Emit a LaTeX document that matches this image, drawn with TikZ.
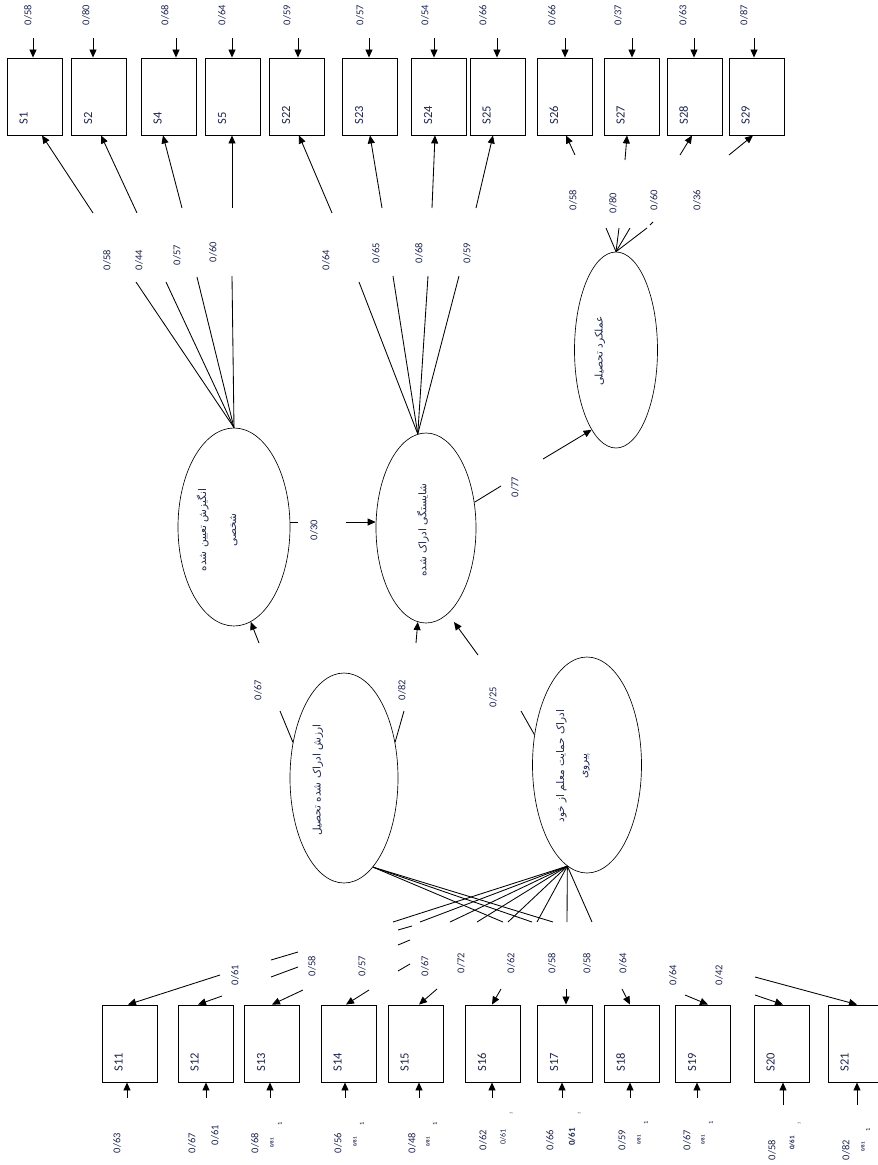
\documentclass[tikz,border=0pt]{standalone}
\usepackage{fontspec}
\setmainfont{Carlito}
\newfontfamily\fa[Script=Arabic]{DejaVu Sans}
\TeXXeTstate=1
\usetikzlibrary{arrows.meta,shapes.geometric}
\definecolor{txt}{RGB}{30,38,78}
\begin{document}
\begin{tikzpicture}[x=1pt,y=-1pt,
  box/.style={draw,line width=0.9pt,minimum width=55pt,minimum height=77pt,inner sep=0pt},
  lat/.style={draw,ellipse,line width=0.65pt,inner sep=0pt},
  ln/.style={line width=0.85pt},
  arr/.style={line width=0.85pt,-{Triangle[length=8pt,width=7pt]}},
  num/.style={rotate=90,font=\fontsize{10.5}{12}\selectfont,text=txt,inner sep=0pt},
  tiny/.style={rotate=90,font=\fontsize{5}{6}\selectfont\bfseries,text=txt,inner sep=0pt},
  one/.style={rotate=90,font=\fontsize{6.5}{7}\selectfont,text=txt,inner sep=0pt},
  slab/.style={rotate=90,anchor=west,font=\fontsize{12.5}{14}\selectfont,text=txt,inner sep=0pt},
  fatext/.style={rotate=90,align=center,font=\fa\fontsize{10.5}{30}\selectfont,text=txt,inner sep=0pt}]
\useasboundingbox (0,0) rectangle (878,1165);

% ---------- latent variables ----------
\node[lat,minimum width=112pt,minimum height=198pt] (E1) at (234,527) {};
\node[lat,minimum width=100pt,minimum height=190pt] (E2) at (426,528) {};
\node[lat,minimum width=83pt,minimum height=196pt] (E3) at (616,350) {};
\node[lat,minimum width=108pt,minimum height=210pt] (E4) at (344,778) {};
\node[lat,minimum width=109pt,minimum height=216pt] (E5) at (587,765) {};

\node[fatext] (T1) at (217,530) {\beginR انگیزش تعیین شده\endR\\\beginR شخصی\endR};
\node[fatext] (T2) at (423,530) {\beginR شایستگی ادراک شده\endR};
\node[fatext] (T3) at (600,351) {\beginR عملکرد تحصیلی\endR};
\node[fatext] (T4) at (318,780) {\beginR ارزش ادراک شده تحصیل\endR};
\node[fatext,font=\fa\fontsize{10.5}{23}\selectfont] (T5) at (573,766) {\beginR ادراک حمایت معلم از خود\endR\\\beginR پیروی\endR};

% ---------- top row of indicators ----------
\foreach \n/\cx/\ta/\tb/\e/\lx/\sx/\sy in {
 1/34.5/-1.5/7.5/58/28/93/213,
 2/99/-6/2/80/86/137/213,
 4/168.5/7.5/-5.5/68/165/182/208,
 5/233/-1/-1/64/222/232/208,
 22/297/1/2/59/287/332/213,
 23/370/-1/0/57/360/382/208,
 24/439/-5/-4/54/425/432/208,
 25/497.5/-0.5/-4.5/66/483/476/208,
 26/565/0/1/66/552/575/155,
 27/631.5/0.5/-4.5/37/618/625/160,
 28/694.5/-0.5/-2.5/63/683/680/155,
 29/756.5/-2.5/-3.5/87/744/729/155}{
  \node[box] (S\n) at (\cx,96.5) {};
  \node[slab] at ([shift={(17,-11)}]S\n.south west) {S\n};
  \coordinate (eT\n) at (\cx+\ta,38);
  \draw[arr] (eT\n) -- ([xshift=\ta]S\n.north);
  \node[num] (lT\n) at (\lx,15) {0/\e};
  \coordinate (uT\n) at (\sx,\sy);
  \draw[arr] (uT\n) -- ([xshift=\tb]S\n.south);
}

% loadings (lower pieces) from the latent variables to the top row
\foreach \n/\x/\y in {1/136/282,2/166/282,4/197/277,5/232/276}{
  \coordinate (dT\n) at (\x,\y);
  \draw[ln] (E1.north) -- (dT\n);
}
\foreach \n/\x/\y in {22/359/282,23/393/276,24/428/276,25/459/276}{
  \coordinate (dT\n) at (\x,\y);
  \draw[ln] (E2.95) -- (dT\n);
}
\foreach \n/\x/\y in {26/606/228,27/619/228,28/630/228,29/647/228}{
  \coordinate (dT\n) at (\x,\y);
  \draw[ln] (E3.north) -- (dT\n);
}
\coordinate (dotA) at (650,225);
\coordinate (dotB) at (653,222);
\draw[ln] (dotA) -- (dotB);

\foreach \x/\y/\t in {107/260/58,139/260/44,177/255/57,213/252/60,
  326/260/64,376/253/65,419/253/68,467/253/59,
  573/200/58,613/203/80,654/200/60,697/200/36}{
  \node[num] at (\x,\y) {0/\t};
}

% ---------- structural paths ----------
\coordinate (p30) at (298,522);
\draw[ln] ([yshift=5]E1.east) -- (p30);
\node[num] (l30) at (314,530) {0/30};
\coordinate (a30) at (346,522);
\draw[arr] (a30) -- ([yshift=6]E2.west);

\coordinate (p77) at (501,486);
\draw[ln] (E2.28) -- (p77);
\node[num] (l77) at (515,487) {0/77};
\coordinate (a77) at (543,459);
\draw[arr] (a77) -- (E3.253);

\coordinate (aE1) at (259,643);
\draw[arr] (aE1) -- (E1.280);
\coordinate (aE2) at (416,643);
\draw[arr] (aE2) -- (E2.265);
\coordinate (bE2) at (478,655);
\coordinate (tE2) at (454,622);
\draw[arr] (bE2) -- (tE2);

\coordinate (p67) at (280,711);
\draw[ln] (E4.145) -- (p67);
\node[num] (l67) at (258,690) {0/67};
\coordinate (p82) at (404,711);
\draw[ln] (E4.35) -- (p82);
\node[num] (l82) at (402,690) {0/82};
\coordinate (p25) at (521,711);
\draw[ln] (E5.150) -- (p25);
\node[num] (l25) at (493,697) {0/25};

% ---------- lines from the two lower latent variables ----------
\foreach \i/\x in {1/503,2/532,3/553}{
  \coordinate (f4\i) at (\x,922);
  \draw[ln] (E4.288) -- (f4\i);
}
\foreach \i/\x in {1/393,2/420,3/450,4/477,5/508,6/537,7/567,8/592}{
  \coordinate (f5\i) at (\x,922);
  \draw[ln] (E5.259) -- (f5\i);
}
% short dashes
\foreach \i/\xa/\ya/\xb/\yb in {1/398/930/412/926,2/398/945/410/940,3/398/971/410/964,
  4/271/960/298/952,5/271/977/298/967}{
  \coordinate (ga\i) at (\xa,\ya);
  \coordinate (gb\i) at (\xb,\yb);
  \draw[ln] (ga\i) -- (gb\i);
}

% ---------- bottom row of indicators ----------
\foreach \n/\cx/\ta/\tb/\sx/\sy/\by in {
 11/129.5/-1.5/-2.5/220/975/1098,
 12/205.5/-7.5/0.5/222/996/1098,
 13/272/0/-2/303/990/1098,
 14/348.5/-2.5/-3.5/369/990/1098,
 15/415.5/3.5/3.5/437/989/1098,
 16/493/-1/-1/501/989/1098,
 17/565/1/-3/566/989/1098,
 18/631.5/-1.5/-1.5/622/989/1098,
 19/703/5/-6/685/995/1098,
 20/781.5/1.5/1.5/755/995/1105,
 21/855.5/1.5/1.5/755/977/1105}{
  \node[box] (S\n) at (\cx,1043.5) {};
  \node[slab] at ([shift={(17,-11)}]S\n.south west) {S\n};
  \coordinate (uB\n) at (\sx,\sy);
  \draw[arr] (uB\n) -- ([xshift=\ta]S\n.north);
  \coordinate (eB\n) at (\cx+\tb,\by);
  \draw[arr] (eB\n) -- ([xshift=\tb]S\n.south);
}

\foreach \x/\y/\t in {235/975/61,312/966/58,362/966/57,425/966/67,461/963/72,
  511/963/62,552/963/58,587/963/58,623/963/64,673/975/64,719/975/42,
  117/1143/63,192/1143/67,215/1135/61,255/1143/68,338/1143/56,412/1143/48,
  483/1140/62,550/1140/66,622/1140/59,687/1140/67,772/1150/58,846/1150/82}{
  \node[num] at (\x,\y) {0/\t};
}
\node[num,font=\fontsize{8}{9}\selectfont] at (503,1137) {0/61};
\node[num,font=\fontsize{9}{10}\selectfont\bfseries] at (572,1137) {0/61};
\node[num,font=\fontsize{7}{8}\selectfont\bfseries] at (792,1143) {0/61};
\foreach \x/\y in {272/1143,355/1142,428/1142,639/1140,703/1140,863/1147}{
  \node[tiny] at (\x,\y) {0/81};
}
\foreach \x/\y in {280/1124,362/1124,435/1124,646/1123,711/1123,868/1130}{
  \node[one] at (\x,\y) {1};
}
\foreach \x/\y in {511/1113,579/1113,799/1123}{
  \node[one,font=\fontsize{4}{5}\selectfont] at (\x,\y) {1};
}
\end{tikzpicture}
\end{document}
